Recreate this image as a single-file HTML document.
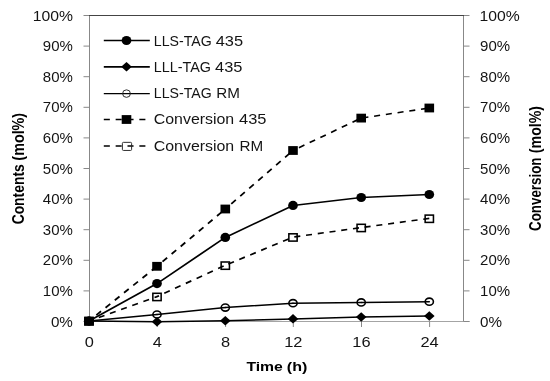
<!DOCTYPE html><html><head><meta charset="utf-8"><title>Chart</title>
<style>html,body{margin:0;padding:0;background:#fff;overflow:hidden}svg{display:block}text{font-family:"Liberation Sans",sans-serif}</style></head><body>
<svg width="550" height="381" viewBox="0 0 550 381">
<rect width="550" height="381" fill="#fff"/>
<g stroke="#888" stroke-width="1" fill="none">
<line x1="89.5" y1="15.5" x2="89.5" y2="321.5"/>
<line x1="463.5" y1="15.5" x2="463.5" y2="321.5"/>
<line x1="89" y1="321.5" x2="469.5" y2="321.5" stroke="#a4a4a4"/>
<line x1="83.5" y1="15.50" x2="89.5" y2="15.50"/>
<line x1="463.5" y1="15.50" x2="469.5" y2="15.50"/>
<line x1="83.5" y1="46.10" x2="89.5" y2="46.10"/>
<line x1="463.5" y1="46.10" x2="469.5" y2="46.10"/>
<line x1="83.5" y1="76.70" x2="89.5" y2="76.70"/>
<line x1="463.5" y1="76.70" x2="469.5" y2="76.70"/>
<line x1="83.5" y1="107.30" x2="89.5" y2="107.30"/>
<line x1="463.5" y1="107.30" x2="469.5" y2="107.30"/>
<line x1="83.5" y1="137.90" x2="89.5" y2="137.90"/>
<line x1="463.5" y1="137.90" x2="469.5" y2="137.90"/>
<line x1="83.5" y1="168.50" x2="89.5" y2="168.50"/>
<line x1="463.5" y1="168.50" x2="469.5" y2="168.50"/>
<line x1="83.5" y1="199.10" x2="89.5" y2="199.10"/>
<line x1="463.5" y1="199.10" x2="469.5" y2="199.10"/>
<line x1="83.5" y1="229.70" x2="89.5" y2="229.70"/>
<line x1="463.5" y1="229.70" x2="469.5" y2="229.70"/>
<line x1="83.5" y1="260.30" x2="89.5" y2="260.30"/>
<line x1="463.5" y1="260.30" x2="469.5" y2="260.30"/>
<line x1="83.5" y1="290.90" x2="89.5" y2="290.90"/>
<line x1="463.5" y1="290.90" x2="469.5" y2="290.90"/>
<line x1="83.5" y1="321.50" x2="89.5" y2="321.50"/>
<line x1="463.5" y1="321.50" x2="469.5" y2="321.50"/>
<line x1="157.3" y1="321.5" x2="157.3" y2="327.0"/>
<line x1="225.6" y1="321.5" x2="225.6" y2="327.0"/>
<line x1="293.3" y1="321.5" x2="293.3" y2="327.0"/>
<line x1="361.5" y1="321.5" x2="361.5" y2="327.0"/>
<line x1="429.6" y1="321.5" x2="429.6" y2="327.0"/>
</g>
<line x1="89" y1="15.5" x2="464" y2="15.5" stroke="#444" stroke-width="1"/>
<text x="32.66" y="20.60" font-size="14.4" fill="#141414" textLength="40.24" lengthAdjust="spacingAndGlyphs">100%</text>
<text x="479.60" y="20.60" font-size="14.4" fill="#141414" textLength="40.24" lengthAdjust="spacingAndGlyphs">100%</text>
<text x="42.88" y="51.20" font-size="14.4" fill="#141414" textLength="30.02" lengthAdjust="spacingAndGlyphs">90%</text>
<text x="480.10" y="51.20" font-size="14.4" fill="#141414" textLength="30.02" lengthAdjust="spacingAndGlyphs">90%</text>
<text x="42.88" y="81.80" font-size="14.4" fill="#141414" textLength="30.02" lengthAdjust="spacingAndGlyphs">80%</text>
<text x="480.10" y="81.80" font-size="14.4" fill="#141414" textLength="30.02" lengthAdjust="spacingAndGlyphs">80%</text>
<text x="42.88" y="112.40" font-size="14.4" fill="#141414" textLength="30.02" lengthAdjust="spacingAndGlyphs">70%</text>
<text x="480.10" y="112.40" font-size="14.4" fill="#141414" textLength="30.02" lengthAdjust="spacingAndGlyphs">70%</text>
<text x="42.88" y="143.00" font-size="14.4" fill="#141414" textLength="30.02" lengthAdjust="spacingAndGlyphs">60%</text>
<text x="480.10" y="143.00" font-size="14.4" fill="#141414" textLength="30.02" lengthAdjust="spacingAndGlyphs">60%</text>
<text x="42.88" y="173.60" font-size="14.4" fill="#141414" textLength="30.02" lengthAdjust="spacingAndGlyphs">50%</text>
<text x="480.10" y="173.60" font-size="14.4" fill="#141414" textLength="30.02" lengthAdjust="spacingAndGlyphs">50%</text>
<text x="42.88" y="204.20" font-size="14.4" fill="#141414" textLength="30.02" lengthAdjust="spacingAndGlyphs">40%</text>
<text x="480.10" y="204.20" font-size="14.4" fill="#141414" textLength="30.02" lengthAdjust="spacingAndGlyphs">40%</text>
<text x="42.88" y="234.80" font-size="14.4" fill="#141414" textLength="30.02" lengthAdjust="spacingAndGlyphs">30%</text>
<text x="480.10" y="234.80" font-size="14.4" fill="#141414" textLength="30.02" lengthAdjust="spacingAndGlyphs">30%</text>
<text x="42.88" y="265.40" font-size="14.4" fill="#141414" textLength="30.02" lengthAdjust="spacingAndGlyphs">20%</text>
<text x="480.10" y="265.40" font-size="14.4" fill="#141414" textLength="30.02" lengthAdjust="spacingAndGlyphs">20%</text>
<text x="42.88" y="296.00" font-size="14.4" fill="#141414" textLength="30.02" lengthAdjust="spacingAndGlyphs">10%</text>
<text x="480.10" y="296.00" font-size="14.4" fill="#141414" textLength="30.02" lengthAdjust="spacingAndGlyphs">10%</text>
<text x="50.91" y="326.60" font-size="14.4" fill="#141414" textLength="21.99" lengthAdjust="spacingAndGlyphs">0%</text>
<text x="480.00" y="326.60" font-size="14.4" fill="#141414" textLength="21.99" lengthAdjust="spacingAndGlyphs">0%</text>
<text x="84.74" y="347.20" font-size="14.0" fill="#141414" textLength="9.12" lengthAdjust="spacingAndGlyphs">0</text>
<text x="152.74" y="347.20" font-size="14.0" fill="#141414" textLength="9.12" lengthAdjust="spacingAndGlyphs">4</text>
<text x="221.04" y="347.20" font-size="14.0" fill="#141414" textLength="9.12" lengthAdjust="spacingAndGlyphs">8</text>
<text x="284.18" y="347.20" font-size="14.0" fill="#141414" textLength="18.25" lengthAdjust="spacingAndGlyphs">12</text>
<text x="352.38" y="347.20" font-size="14.0" fill="#141414" textLength="18.25" lengthAdjust="spacingAndGlyphs">16</text>
<text x="420.48" y="347.20" font-size="14.0" fill="#141414" textLength="18.25" lengthAdjust="spacingAndGlyphs">24</text>
<text x="246.43" y="371.20" font-size="13.5" font-weight="bold" fill="#000" textLength="36.42" lengthAdjust="spacingAndGlyphs">Time</text>
<text x="286.85" y="371.20" font-size="13.5" font-weight="bold" fill="#000" textLength="20.53" lengthAdjust="spacingAndGlyphs">(h)</text>
<g transform="translate(23.8,168.6) rotate(-90)">
<text x="-55.75" y="0.00" font-size="16.0" font-weight="bold" fill="#000" textLength="60.05" lengthAdjust="spacingAndGlyphs">Contents</text>
<text x="7.96" y="0.00" font-size="16.0" font-weight="bold" fill="#000" textLength="47.79" lengthAdjust="spacingAndGlyphs">(mol%)</text>
</g>
<g transform="translate(541.0,168.4) rotate(-90)">
<text x="-62.50" y="0.00" font-size="16.0" font-weight="bold" fill="#000" textLength="73.34" lengthAdjust="spacingAndGlyphs">Conversion</text>
<text x="15.20" y="0.00" font-size="16.0" font-weight="bold" fill="#000" textLength="47.30" lengthAdjust="spacingAndGlyphs">(mol%)</text>
</g>
<g fill="none" stroke="#000" stroke-width="1.65" stroke-linejoin="round">
<line x1="89.0" y1="321.0" x2="157.0" y2="283.6" stroke-width="1.72" stroke-linecap="round"/>
<line x1="157.0" y1="283.6" x2="225.3" y2="237.4" stroke-width="1.75" stroke-linecap="round"/>
<line x1="225.3" y1="237.4" x2="293.0" y2="205.4" stroke-width="1.69" stroke-linecap="round"/>
<line x1="293.0" y1="205.4" x2="361.2" y2="197.5" stroke-width="1.55" stroke-linecap="round"/>
<line x1="361.2" y1="197.5" x2="429.3" y2="194.5" stroke-width="1.52" stroke-linecap="round"/>
<line x1="89.0" y1="321.0" x2="157.0" y2="321.8" stroke-width="1.51" stroke-linecap="round"/>
<line x1="157.0" y1="321.8" x2="225.3" y2="320.8" stroke-width="1.51" stroke-linecap="round"/>
<line x1="225.3" y1="320.8" x2="293.0" y2="318.9" stroke-width="1.51" stroke-linecap="round"/>
<line x1="293.0" y1="318.9" x2="361.2" y2="317.0" stroke-width="1.51" stroke-linecap="round"/>
<line x1="361.2" y1="317.0" x2="429.3" y2="316.0" stroke-width="1.51" stroke-linecap="round"/>
<line x1="89.0" y1="321.0" x2="157.0" y2="314.5" stroke-width="1.54" stroke-linecap="round"/>
<line x1="157.0" y1="314.5" x2="225.3" y2="307.6" stroke-width="1.55" stroke-linecap="round"/>
<line x1="225.3" y1="307.6" x2="293.0" y2="303.2" stroke-width="1.53" stroke-linecap="round"/>
<line x1="293.0" y1="303.2" x2="361.2" y2="302.4" stroke-width="1.51" stroke-linecap="round"/>
<line x1="361.2" y1="302.4" x2="429.3" y2="301.7" stroke-width="1.50" stroke-linecap="round"/>
<line x1="89.0" y1="321.0" x2="157.0" y2="266.3" stroke-width="1.80" stroke-dasharray="6.05 5.8" stroke-dashoffset="-9.40"/>
<line x1="157.0" y1="266.3" x2="225.3" y2="209.0" stroke-width="1.81" stroke-dasharray="6.05 5.8" stroke-dashoffset="-7.20"/>
<line x1="225.3" y1="209.0" x2="293.0" y2="150.5" stroke-width="1.81" stroke-dasharray="6.05 5.8" stroke-dashoffset="-7.90"/>
<line x1="293.0" y1="150.5" x2="361.2" y2="118.1" stroke-width="1.72" stroke-dasharray="6.05 5.8" stroke-dashoffset="-6.60"/>
<line x1="361.2" y1="118.1" x2="429.3" y2="108.0" stroke-width="1.61" stroke-dasharray="6.05 5.8" stroke-dashoffset="-1.20"/>
<line x1="89.0" y1="321.0" x2="157.0" y2="296.6" stroke-width="1.69" stroke-dasharray="6.05 5.8" stroke-dashoffset="-10.40"/>
<line x1="157.0" y1="296.6" x2="225.3" y2="265.3" stroke-width="1.72" stroke-dasharray="6.05 5.8" stroke-dashoffset="-8.00"/>
<line x1="225.3" y1="265.3" x2="293.0" y2="237.1" stroke-width="1.70" stroke-dasharray="6.05 5.8" stroke-dashoffset="-3.30"/>
<line x1="293.0" y1="237.1" x2="361.2" y2="227.6" stroke-width="1.61" stroke-dasharray="6.05 5.8" stroke-dashoffset="-1.30"/>
<line x1="361.2" y1="227.6" x2="429.3" y2="218.4" stroke-width="1.60" stroke-dasharray="6.05 5.8" stroke-dashoffset="-3.40"/>
</g>
<ellipse cx="89.0" cy="321.0" rx="4.85" ry="4.6" fill="#000"/>
<ellipse cx="157.0" cy="283.6" rx="4.85" ry="4.6" fill="#000"/>
<ellipse cx="225.3" cy="237.4" rx="4.85" ry="4.6" fill="#000"/>
<ellipse cx="293.0" cy="205.4" rx="4.85" ry="4.6" fill="#000"/>
<ellipse cx="361.2" cy="197.5" rx="4.85" ry="4.6" fill="#000"/>
<ellipse cx="429.3" cy="194.5" rx="4.85" ry="4.6" fill="#000"/>
<path d="M83.7 321.0L89.0 316.2L94.3 321.0L89.0 325.8Z" fill="#000"/>
<path d="M151.7 321.8L157.0 317.1L162.3 321.8L157.0 326.6Z" fill="#000"/>
<path d="M220.0 320.8L225.3 316.1L230.6 320.8L225.3 325.6Z" fill="#000"/>
<path d="M287.7 318.9L293.0 314.1L298.3 318.9L293.0 323.6Z" fill="#000"/>
<path d="M355.9 317.0L361.2 312.2L366.5 317.0L361.2 321.8Z" fill="#000"/>
<path d="M424.0 316.0L429.3 311.2L434.6 316.0L429.3 320.8Z" fill="#000"/>
<ellipse cx="89.0" cy="321.0" rx="4.1" ry="3.55" fill="none" stroke="#000" stroke-width="1.6"/>
<ellipse cx="157.0" cy="314.5" rx="4.1" ry="3.55" fill="none" stroke="#000" stroke-width="1.6"/>
<ellipse cx="225.3" cy="307.6" rx="4.1" ry="3.55" fill="none" stroke="#000" stroke-width="1.6"/>
<ellipse cx="293.0" cy="303.2" rx="4.1" ry="3.55" fill="none" stroke="#000" stroke-width="1.6"/>
<ellipse cx="361.2" cy="302.4" rx="4.1" ry="3.55" fill="none" stroke="#000" stroke-width="1.6"/>
<ellipse cx="429.3" cy="301.7" rx="4.1" ry="3.55" fill="none" stroke="#000" stroke-width="1.6"/>
<rect x="84.2" y="316.6" width="9.6" height="8.8" fill="#000"/>
<rect x="152.2" y="261.9" width="9.6" height="8.8" fill="#000"/>
<rect x="220.5" y="204.6" width="9.6" height="8.8" fill="#000"/>
<rect x="288.2" y="146.1" width="9.6" height="8.8" fill="#000"/>
<rect x="356.4" y="113.7" width="9.6" height="8.8" fill="#000"/>
<rect x="424.5" y="103.6" width="9.6" height="8.8" fill="#000"/>
<rect x="84.85" y="317.70" width="8.3" height="7.3" fill="none" stroke="#000" stroke-width="1.55"/>
<rect x="152.85" y="293.30" width="8.3" height="7.3" fill="none" stroke="#000" stroke-width="1.55"/>
<rect x="221.15" y="262.00" width="8.3" height="7.3" fill="none" stroke="#000" stroke-width="1.55"/>
<rect x="288.85" y="233.80" width="8.3" height="7.3" fill="none" stroke="#000" stroke-width="1.55"/>
<rect x="357.05" y="224.30" width="8.3" height="7.3" fill="none" stroke="#000" stroke-width="1.55"/>
<rect x="425.15" y="215.10" width="8.3" height="7.3" fill="none" stroke="#000" stroke-width="1.55"/>
<line x1="103.8" y1="40.5" x2="149.8" y2="40.5" stroke="#000" stroke-width="1.7"/>
<ellipse cx="126.5" cy="40.5" rx="4.85" ry="4.6" fill="#000"/>
<text x="153.80" y="45.50" font-size="14.0" fill="#141414" textLength="57.84" lengthAdjust="spacingAndGlyphs">LLS-TAG</text>
<text x="215.71" y="45.50" font-size="14.0" fill="#141414" textLength="27.37" lengthAdjust="spacingAndGlyphs">435</text>
<line x1="103.8" y1="66.8" x2="149.8" y2="66.8" stroke="#000" stroke-width="1.7"/>
<path d="M121.2 66.8L126.5 62.0L131.8 66.8L126.5 71.5Z" fill="#000"/>
<text x="153.80" y="71.70" font-size="14.0" fill="#141414" textLength="57.22" lengthAdjust="spacingAndGlyphs">LLL-TAG</text>
<text x="215.09" y="71.70" font-size="14.0" fill="#141414" textLength="27.37" lengthAdjust="spacingAndGlyphs">435</text>
<line x1="103.8" y1="93.6" x2="149.8" y2="93.6" stroke="#000" stroke-width="1.35"/>
<ellipse cx="126.5" cy="93.6" rx="3.9" ry="3.75" fill="none" stroke="#222" stroke-width="0.95"/>
<text x="153.80" y="98.00" font-size="14.0" fill="#141414" textLength="57.84" lengthAdjust="spacingAndGlyphs">LLS-TAG</text>
<text x="216.21" y="98.00" font-size="14.0" fill="#141414" textLength="23.65" lengthAdjust="spacingAndGlyphs">RM</text>
<line x1="103.8" y1="119.5" x2="149.8" y2="119.5" stroke="#000" stroke-width="1.45" stroke-dasharray="6.05 5.8"/>
<rect x="121.7" y="115.1" width="9.6" height="8.8" fill="#000"/>
<text x="153.80" y="124.40" font-size="14.0" fill="#141414" textLength="80.43" lengthAdjust="spacingAndGlyphs">Conversion</text>
<text x="239.12" y="124.40" font-size="14.0" fill="#141414" textLength="27.37" lengthAdjust="spacingAndGlyphs">435</text>
<line x1="103.8" y1="145.9" x2="149.8" y2="145.9" stroke="#000" stroke-width="1.45" stroke-dasharray="6.05 5.8"/>
<rect x="122.40" y="142.35" width="9.2" height="8.1" rx="1" fill="none" stroke="#222" stroke-width="0.95"/>
<text x="153.80" y="151.20" font-size="14.0" fill="#141414" textLength="80.43" lengthAdjust="spacingAndGlyphs">Conversion</text>
<text x="239.62" y="151.20" font-size="14.0" fill="#141414" textLength="23.65" lengthAdjust="spacingAndGlyphs">RM</text>
</svg></body></html>
